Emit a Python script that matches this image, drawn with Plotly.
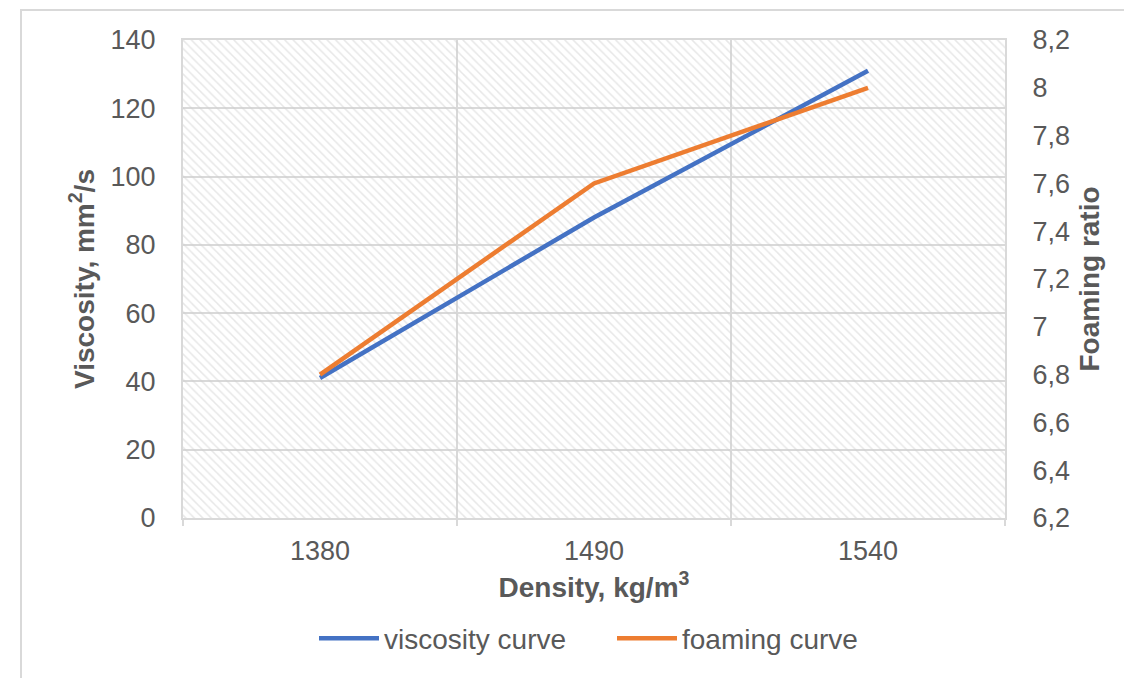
import plotly.graph_objects as go

density = ["1380", "1490", "1540"]
viscosity = [41, 88, 131]
foaming = [6.8, 7.6, 8.0]
left_ticks = [0, 20, 40, 60, 80, 100, 120, 140]
right_ticks = [6.2, 6.4, 6.6, 6.8, 7.0, 7.2, 7.4, 7.6, 7.8, 8.0, 8.2]
right_labels = ["6,2", "6,4", "6,6", "6,8", "7", "7,2", "7,4", "7,6", "7,8", "8", "8,2"]

Y1MAX = 140
FONT = "Liberation Sans, Arial, sans-serif"
TXT = "#595959"
GRID = "#d9d9d9"

fig = go.Figure()

fig.add_trace(go.Scatter(
    x=density, y=viscosity, mode="lines", name="viscosity curve",
    line=dict(color="#4472c4", width=4.5), yaxis="y",
))
fig.add_trace(go.Scatter(
    x=density, y=foaming, mode="lines", name="foaming curve",
    line=dict(color="#ed7d31", width=4.5), yaxis="y2",
))
# hatched plot-area background (drawn beneath the lines)
fig.add_trace(go.Bar(
    x=[density[1]], y=[Y1MAX], width=[len(density)],
    marker=dict(color="rgba(0,0,0,0)", line=dict(width=0),
                pattern=dict(shape="\\", fgcolor="#cfcfcf", bgcolor="rgba(0,0,0,0)",
                             size=6, solidity=0.25)),
    showlegend=False, hoverinfo="skip",
))

fig.update_layout(
    width=1132, height=678,
    margin=dict(l=175, r=135, t=32, b=168, autoexpand=False),
    paper_bgcolor="white", plot_bgcolor="white",
    font=dict(family=FONT, color=TXT, size=27),
    bargap=0,
    xaxis=dict(
        type="category", categoryorder="array", categoryarray=density,
        range=[-0.5, 2.5], tickson="boundaries",
        showgrid=True, gridcolor=GRID, gridwidth=2,
        showline=True, linecolor=GRID, linewidth=2, mirror=True,
        ticks="outside", ticklen=6, tickcolor=GRID, tickwidth=2,
        ticklabelstandoff=8,
        tickfont=dict(size=27, color=TXT),
        title=dict(text="<b>Density, kg/m<sup>3</sup></b>", font=dict(size=28, color=TXT), standoff=12),
        zeroline=False,
    ),
    yaxis=dict(
        range=[0, Y1MAX], tickvals=left_ticks,
        showgrid=True, gridcolor=GRID, gridwidth=2,
        showline=True, linecolor=GRID, linewidth=2,
        ticks="", ticklabelstandoff=20,
        tickfont=dict(size=27, color=TXT),
        title=dict(text="<b>Viscosity, mm<sup>2</sup>/s</b>", font=dict(size=28, color=TXT), standoff=8),
        zeroline=False,
    ),
    yaxis2=dict(
        overlaying="y", side="right", range=[6.2, 8.2],
        tickvals=right_ticks, ticktext=right_labels,
        showgrid=False, showline=True, linecolor=GRID, linewidth=2,
        ticks="", ticklabelstandoff=20,
        tickfont=dict(size=27, color=TXT),
        title=dict(text="<b>Foaming ratio</b>", font=dict(size=28, color=TXT), standoff=10),
        zeroline=False,
    ),
    legend=dict(orientation="h", x=(314 - 183) / 822, xanchor="left", y=-0.2, yanchor="top",
                font=dict(size=28, color=TXT), bgcolor="rgba(0,0,0,0)",
                entrywidth=223, entrywidthmode="pixels", itemwidth=60,
                traceorder="normal"),
    shapes=[dict(type="rect", xref="paper", yref="paper",
                 x0=(21 - 183) / 822, x1=1.3, y0=-0.5, y1=(518 - 10) / 478,
                 line=dict(color=GRID, width=2), fillcolor="rgba(0,0,0,0)", layer="below")],
)

fig.write_html("out.html")
